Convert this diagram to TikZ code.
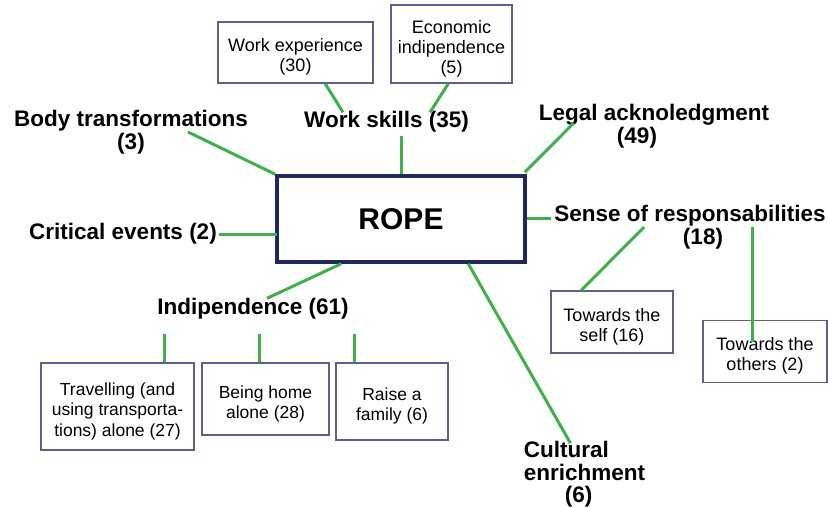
\documentclass[tikz,border=0pt]{standalone}
\usepackage{fontspec}
\setmainfont{Liberation Sans}
\definecolor{lgreen}{RGB}{64,176,72}
\definecolor{navy}{RGB}{35,40,92}
\definecolor{boxline}{RGB}{92,96,138}
\newcommand\boxtxt[3]{\begin{minipage}[c][#1][c]{#2}\centering\vspace*{9pt}#3\end{minipage}}
\begin{document}
\begin{tikzpicture}[x=1pt,y=-1pt,
  lbl/.style={inner sep=0pt,align=center,font=\fontsize{22.5}{22.5}\selectfont\bfseries},
  sbox/.style={draw=boxline,line width=1.5pt,inner sep=0pt,font=\fontsize{18}{20}\selectfont},
  conn/.style={draw=lgreen,line width=3pt},
  rope/.style={draw=navy,line width=3.5pt,minimum width=248,minimum height=86,inner sep=0pt,font=\fontsize{30}{30}\selectfont\bfseries}]
\useasboundingbox (0,0) rectangle (828,508);
% central node
\node[rope] (rope) at (401,219) {ROPE};
% labels
\node[lbl] (bt) at (131,132) {Body transformations\\(3)};
\node[lbl] (ce) at (123,234) {Critical events (2)};
\node[lbl] (ws) at (386.5,122) {Work skills (35)};
\node[lbl] (la) at (654,126) {Legal acknoledgment\\\hspace*{-34pt}(49)};
\node[lbl] (sr) at (690,227) {Sense of responsabilities\\\hspace*{26pt}(18)};
\node[lbl] (ind) at (253,309) {Indipendence (61)};
\node[lbl,align=left] (cu) at (584.5,474.5) {Cultural\\enrichment\\\hspace*{41pt}(6)};
% boxes
\node[sbox] (we) at (295.5,52.5) {\boxtxt{61pt}{155pt}{Work experience\\(30)}};
\node[sbox] (ei) at (451.5,44) {\boxtxt{78pt}{121pt}{Economic\\indipendence\\(5)}};
\node[sbox,font=\fontsize{17.5}{20.5}\selectfont] (tr) at (117.5,406.5) {\boxtxt{87pt}{153pt}{Travelling (and\\using transporta-\\tions) alone (27)}};
\node[sbox,font=\fontsize{17.5}{20}\selectfont] (be) at (265.5,399) {\boxtxt{72pt}{127pt}{Being home\\alone (28)}};
\node[sbox,font=\fontsize{17.5}{20}\selectfont] (ra) at (392,401.5) {\boxtxt{77pt}{112pt}{Raise a\\family (6)}};
\node[sbox] (ts) at (612,322) {\boxtxt{62pt}{122pt}{Towards the\\self (16)}};
\node[sbox] (to) at (765,351.5) {\boxtxt{62pt}{124pt}{Towards the\\others (2)}};
% connectors
\draw[conn] ([xshift=57]bt.center) -- (rope.north west);
\draw[conn] ([xshift=2]ce.east) -- ([xshift=2]ce.east -| rope.west);
\draw[conn] ([yshift=-3]rope.north |- ws.south) -- (rope.north);
\draw[conn] ([xshift=108]we.south west) -- ([xshift=-43.5,yshift=-1]ws.north);
\draw[conn] ([xshift=58]ei.south west) -- ([xshift=43.5,yshift=-1]ws.north);
\draw[conn] ([xshift=-2,yshift=2]rope.north east) -- ([xshift=35,yshift=-19]la.north west);
\draw[conn] (rope.east) -- ([xshift=-3]rope.east -| sr.west);
\draw[conn] ([xshift=31]ts.north west) -- ([xshift=90,yshift=-22]sr.north west);
\draw[conn] ([xshift=198,yshift=-22]sr.north west) -- ([xshift=198,yshift=-22]sr.north west |- to.north);
\draw[conn] ([xshift=66]rope.south west) -- ([xshift=14]ind.north);
\draw[conn] ([xshift=124]tr.north west) -- ([xshift=124,yshift=-14]tr.north west |- ind.south);
\draw[conn] ([xshift=58]be.north west) -- ([xshift=58,yshift=-14]be.north west |- ind.south);
\draw[conn] ([xshift=19]ra.north west) -- ([xshift=19,yshift=-14]ra.north west |- ind.south);
\draw[conn] ([xshift=193]rope.south west) -- ([xshift=-14,yshift=-2]cu.north);
\end{tikzpicture}
\end{document}
